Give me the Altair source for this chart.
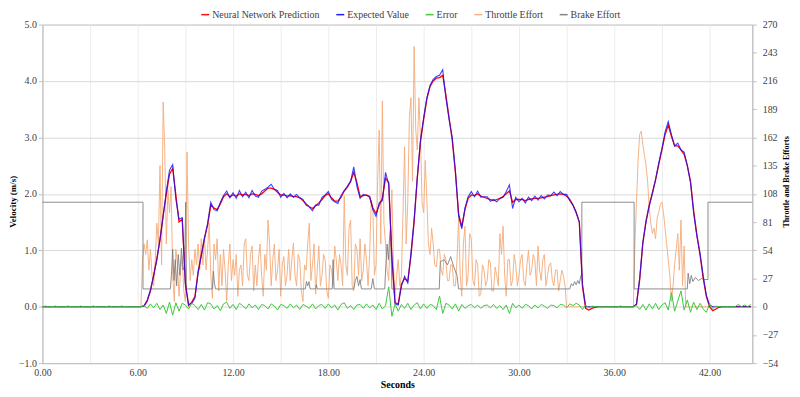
import altair as alt
import pandas as pd

# ---------------- data ----------------
time_s = [round(i * 0.2, 1) for i in range(224)]       # 0.0 .. 44.6 s, velocity grid
throttle_t = [round(i * 0.1, 1) for i in range(448)]   # 0.0 .. 44.7 s, throttle grid

expected_value = [0.0] * 30 + [
    0, 0, 0.02, 0.12, 0.3, 0.55, 0.82, 1.2, 1.6, 2.05,            # 6.0-7.8
    2.42, 2.52, 1.9, 1.55, 1.58, 0.38, 0.04, 0.06, 0.15, 0.6,     # 8.0-9.8
    0.9, 1.2, 1.48, 1.85, 1.72, 1.7, 1.85, 1.97, 2.05, 1.93,      # 10.0-11.8
    2.02, 1.92, 2.06, 1.95, 2.03, 1.93, 2.06, 1.96, 1.94, 2.05,   # 12.0-13.8
    2.08, 2.12, 2.17, 2.08, 2.06, 1.94, 2.01, 1.93, 2.0, 1.94,    # 14.0-15.8
    1.99, 1.93, 1.9, 1.8, 1.77, 1.7, 1.8, 1.8, 1.94, 1.98,        # 16.0-17.8
    2.04, 1.9, 1.86, 1.83, 1.97, 2.06, 2.14, 2.22, 2.48, 2.13,    # 18.0-19.8
    1.92, 1.99, 1.97, 1.96, 1.72, 1.6, 1.84, 1.88, 2.38, 2.17,    # 20.0-21.8
    0.9, 0.05, 0.03, 0.36, 0.54, 0.42, 0.95, 1.55, 2.3, 2.95,     # 22.0-23.8
    3.35, 3.7, 3.92, 4.03, 4.08, 4.1, 4.2, 3.7, 3.32, 3.0,        # 24.0-25.8
    2.4, 1.6, 1.38, 1.75, 1.95, 2.04, 1.95, 2.05, 1.94, 1.95,     # 26.0-27.8
    1.95, 1.87, 1.9, 1.86, 1.92, 1.94, 2.04, 2.16, 1.74, 1.94,    # 28.0-29.8
    1.86, 1.92, 1.84, 1.94, 1.88, 1.96, 1.89, 1.97, 1.91, 1.98,   # 30.0-31.8
    1.97, 2.03, 1.97, 2.04, 1.99, 1.99, 1.88, 1.8, 1.66, 1.5,     # 32.0-33.8
    0.4, 0.0, 0, 0, 0, 0, 0, 0, 0, 0,                             # 34.0-35.8
    0, 0, 0, 0, 0, 0, 0, 0.05, 0.5, 1.15,                         # 36.0-37.8
    1.5, 1.78, 2.0, 2.25, 2.55, 2.8, 3.1, 3.28, 3.05, 2.85,       # 38.0-39.8
    2.9, 2.78, 2.74, 2.5, 2.2, 1.65, 1.25, 0.95, 0.55, 0.2,       # 40.0-41.8
    0.03, 0, 0, 0, 0, 0, 0, 0, 0, 0,                              # 42.0-43.8
    0, 0, 0, 0,                                                   # 44.0-44.6
]

nn_prediction = [0.0] * 30 + [
    0, 0, 0.01, 0.1, 0.28, 0.55, 0.85, 1.18, 1.62, 2.0,
    2.35, 2.45, 1.98, 1.5, 1.55, 0.42, 0.02, 0.08, 0.18, 0.62,
    0.92, 1.22, 1.45, 1.8, 1.75, 1.72, 1.82, 1.95, 2.0, 1.95,
    1.98, 1.96, 2.0, 1.98, 1.99, 1.97, 2.0, 1.99, 1.97, 2.0,
    2.05, 2.1, 2.1, 2.08, 2.03, 1.98, 1.98, 1.96, 1.97, 1.95,
    1.95, 1.93, 1.88, 1.82, 1.77, 1.74, 1.79, 1.84, 1.9, 1.97,
    2.0, 1.93, 1.87, 1.87, 1.94, 2.05, 2.12, 2.22, 2.38, 2.2,
    1.95, 1.97, 1.98, 1.94, 1.75, 1.65, 1.8, 1.92, 2.28, 2.2,
    0.85, 0.07, 0.05, 0.4, 0.5, 0.45, 0.9, 1.5, 2.28, 2.92,
    3.32, 3.68, 3.9, 4.0, 4.05, 4.06, 4.1, 3.75, 3.35, 2.95,
    2.38, 1.65, 1.42, 1.72, 1.92, 1.98, 1.97, 2.0, 1.96, 1.94,
    1.92, 1.9, 1.88, 1.9, 1.92, 1.95, 2.0, 2.05, 1.85, 1.9,
    1.9, 1.9, 1.88, 1.9, 1.91, 1.92, 1.92, 1.93, 1.94, 1.95,
    1.97, 1.98, 1.99, 2.0, 1.99, 1.96, 1.9, 1.8, 1.68, 1.5,
    0.35, -0.03, -0.06, -0.03, -0.01, 0, 0, 0, 0, 0,
    0, 0, 0, 0, 0, 0, 0, 0.04, 0.48, 1.12,
    1.52, 1.8, 2.02, 2.25, 2.52, 2.78, 3.05, 3.22, 3.02, 2.85,
    2.85, 2.78, 2.7, 2.5, 2.22, 1.7, 1.28, 0.92, 0.5, 0.18,
    0.0, -0.07, -0.04, -0.01, 0, 0, 0, 0, 0, 0,
    0, 0, 0, 0,
]

error = [
    0, 0.01, 0, 0, 0.01, 0, 0, 0, 0.01, 0,
    0, 0, 0.01, 0, 0, 0, 0.01, 0, 0, 0,
    0, 0.01, 0, 0, 0, 0.01, 0, 0, 0, 0,
    0, 0, 0.02, -0.03, 0.05, -0.02, 0.06, -0.05, 0.03, -0.12,
    0.08, -0.15, 0.07, -0.08, 0.06, 0.03, -0.04, 0.06, 0.02, -0.05,
    0.04, -0.06, 0.07, 0.05, -0.04, 0.02, -0.07, 0.05, 0.08, -0.03,
    0.04, -0.05, 0.06, 0.02, -0.04, 0.05, -0.02, 0.03, -0.05, 0.04,
    0.02, -0.04, 0.05, 0.01, -0.06, 0.04, 0.02, -0.03, 0.05, -0.02,
    0.03, -0.05, 0.04, 0.01, -0.03, 0.05, -0.04, 0.02, 0.04, -0.03,
    0.05, -0.02, 0.03, -0.06, 0.04, 0.07, -0.03, 0.02, -0.05, 0.03,
    0.04, -0.03, 0.05, -0.02, 0.03, -0.05, 0.06, -0.04, 0.02, 0.35,
    -0.17, 0.05, -0.08, 0.04, -0.03, 0.06, -0.05, 0.03, 0.07, -0.04,
    0.05, -0.03, 0.04, 0.02, -0.05, 0.19, -0.12, 0.06, 0.03, -0.04,
    0.05, -0.08, 0.04, -0.03, 0.02, 0.04, -0.02, 0.03, -0.03, 0.02,
    0.03, -0.02, 0.04, -0.03, 0.02, -0.05, 0.03, -0.12, 0.06, -0.02,
    0.03, -0.03, 0.04, 0.02, -0.04, 0.03, -0.02, 0.04, 0.01, -0.03,
    0.03, 0.02, -0.02, 0.04, 0.03, -0.02, 0.05, 0.02, 0.06, 0.03,
    -0.05, 0.03, -0.02, 0.01, 0, 0, 0, 0, 0, 0,
    0, 0, 0.01, 0, 0, 0, 0, 0.02, -0.05, 0.04,
    -0.06, 0.05, -0.04, 0.06, -0.05, 0.03, 0.07, -0.06, 0.25, -0.08,
    0.1, 0.28, -0.06, 0.12, -0.1, 0.08, -0.05, 0.06, -0.04, -0.1,
    0.05, -0.03, 0.01, 0, 0, 0, 0, 0, 0, 0.04,
    0, 0.03, 0, 0.04,
]

throttle_effort = [0.0] * 63 + [
    45, 60, 50, 64, 35, 55, 30,                      # 6.3-6.9
    20, 45, 80, 60, 135, 40, 196, 150, 60, 112,      # 7.0-7.9
    90, 115, 30, 5, 55, 40, 10, 35, 48, 15,          # 8.0-8.9
    5, 148, 60, 25, 45, 30, 55, 40, 60, 35,          # 9.0-9.9
    65, 40, 68, 35, 55, 80, 30, 8, 60, 45,           # 10.0-10.9
    65, 15, 50, 20, 55, 35, 5, 40, 60, 25,           # 11.0-11.9
    45, 30, 50, 10, 35, 40, 20, 60, 65, 30,          # 12.0-12.9
    25, 50, 58, 15, 40, 20, 45, 60, 30, 10,          # 13.0-13.9
    50, 35, 83, 60, 20, 45, 60, 25, 35, 55,          # 14.0-14.9
    10, 40, 48, 20, 30, 55, 25, 45, 61, 30,          # 15.0-15.9
    20, 50, 45, 15, 5, 40, 35, 60, 80, 25,           # 16.0-16.9
    40, 60, 12, 35, 58, 20, 30, 50, 45, 15,          # 17.0-17.9
    8, 40, 35, 20, 58, 45, 25, 50, 40, 20,           # 18.0-18.9
    106, 40, 30, 75, 83, 20, 15, 60, 55, 30,         # 19.0-19.9
    65, 25, 35, 60, 45, 20, 50, 102, 95, 30,         # 20.0-20.9
    40, 120, 169, 60, 197, 80, 60, 35, 25, 70,       # 21.0-21.9
    112, 40, 10, 30, 45, 20, 30, 90, 153, 60,        # 22.0-22.9
    100, 180, 200, 120, 249, 170, 150, 200, 162, 100,  # 23.0-23.9
    90, 140, 103, 60, 50, 75, 60, 40, 38, 55,        # 24.0-24.9
    55, 35, 30, 50, 45, 25, 25, 40, 40, 20,          # 25.0-25.9
    20, 45, 85, 30, 10, 60, 77, 20, 30, 70,          # 26.0-26.9
    65, 25, 20, 45, 40, 10, 12, 40, 35, 20,          # 27.0-27.9
    25, 45, 42, 15, 15, 38, 30, 20, 70, 50,          # 28.0-28.9
    77, 30, 10, 45, 45, 20, 25, 50, 40, 20,          # 29.0-29.9
    30, 45, 50, 25, 20, 40, 54, 30, 35, 50,          # 30.0-30.9
    45, 20, 58, 35, 25, 45, 50, 20, 30, 40,          # 31.0-31.9
    42, 25, 20, 35, 35, 15, 25, 35, 30, 20,          # 32.0-32.9
    0,                                               # 33.0
] + [0.0] * 42 + [                                   # 33.1-37.2
    60, 100, 140, 165, 168, 155, 145,                # 37.3-37.9
    135, 120, 95, 80, 70, 75, 65, 85, 90, 98,        # 38.0-38.9
    100, 90, 75, 60, 45, 30, 5, 20, 40, 55,          # 39.0-39.9
    70, 35, 83, 20, 58, 0,                           # 40.0-40.5
] + [0.0] * 42                                       # 40.6-44.7

brake_t = [0.0, 6.33, 6.33, 8.05, 8.12, 8.2, 8.28, 8.36, 8.45, 8.55, 8.65, 8.75,
           8.85, 8.95, 9.02, 9.06, 10.7, 10.76, 10.83, 10.9, 16.55, 16.62, 16.7,
           16.78, 16.85, 17.2, 17.25, 17.3, 18.25, 18.3, 18.36, 19.6, 19.7, 19.8,
           19.9, 20.0, 20.08, 20.7, 20.8, 20.9, 21.55, 21.62, 21.7, 21.78, 21.86,
           21.92, 22.0, 24.98, 25.05, 25.3, 25.5, 25.7, 25.9, 26.1, 26.2, 33.2,
           33.3, 33.4, 33.5, 33.6, 33.7, 33.8, 33.9, 33.96, 33.96, 37.25, 37.25,
           40.6, 40.65, 40.75, 40.85, 40.95, 41.1, 41.3, 41.5, 41.7, 41.9, 41.9,
           44.69]
brake_v = [100, 100, 17, 17, 30, 55, 25, 45, 20, 50, 30, 56,
           35, 40, 100, 17, 17, 34, 22, 17, 17, 24, 20,
           24, 17, 17, 21, 17, 17, 45, 17, 17, 25, 29,
           20, 26, 17, 17, 27, 17, 17, 40, 60, 45, 67,
           77, 17, 17, 43, 45, 40, 48, 38, 30, 17, 17,
           22, 20, 24, 21, 25, 22, 30, 30, 100, 100, 17,
           17, 32, 22, 30, 24, 28, 25, 27, 26, 26, 100,
           100]

SERIES = ["Neural Network Prediction", "Expected Value", "Error",
          "Throttle Effort", "Brake Effort"]
COLORS = ["#FF0000", "#1010FF", "#3CC83C", "#F4AE7E", "#7F7F7F"]

x_ticks = [0, 3, 6, 9, 12, 15, 18, 21, 24, 27, 30, 33, 36, 39, 42]
left_ticks = [-1, 0, 1, 2, 3, 4, 5]
right_ticks = [-54, -27, 0, 27, 54, 81, 108, 135, 162, 189, 216, 243, 270]


def frame(ts, vs, name):
    return pd.DataFrame({"t": ts, "v": vs, "series": name,
                         "idx": list(range(len(ts)))})


FONT = "Liberation Serif"

color = alt.Color(
    "series:N",
    scale=alt.Scale(domain=SERIES, range=COLORS),
    legend=alt.Legend(
        title=None, orient="none", legendX=159, legendY=-15,
        direction="horizontal", symbolType="stroke", symbolSize=64,
        symbolStrokeWidth=1.5, labelFontSize=10, labelFont=FONT,
        labelColor="#404040", columnPadding=13, labelOffset=2, padding=0,
    ),
)

x_enc = alt.X(
    "t:Q",
    scale=alt.Scale(domain=[0, 44.69], nice=False, zero=False),
    axis=alt.Axis(
        values=x_ticks,
        labelExpr="datum.value % 6 == 0 ? format(datum.value, '.2f') : ''",
        title="Seconds", grid=True, gridColor="#EDEDED", ticks=False,
        labelPadding=4, labelFontSize=10, labelColor="#404040",
        labelOverlap=False, labelFlush=False, labelBound=False,
        titleFontSize=10, titleFontWeight="bold", titlePadding=3,
        domainColor="#BFBFBF",
    ),
)

y_left = alt.Y(
    "v:Q",
    scale=alt.Scale(domain=[-1, 5], nice=False, zero=False),
    axis=alt.Axis(
        orient="left", values=left_ticks, format=".1f", grid=True,
        gridColor="#D9D9D9", tickSize=4, tickColor="#BFBFBF", labelPadding=2,
        labelFontSize=10, labelColor="#404040", labelFlush=False,
        domainColor="#BFBFBF", title="Velocity (m/s)", titleFontSize=9,
        titleFontWeight="bold", titleAngle=270, titleBaseline="middle",
        titleX=-30, titleY=178,
    ),
)

y_right = alt.Y(
    "v:Q",
    scale=alt.Scale(domain=[-54, 270], nice=False, zero=False),
    axis=alt.Axis(
        orient="right", values=right_ticks, format="d", grid=False,
        tickSize=4, tickColor="#BFBFBF", labelPadding=6, labelFontSize=10,
        labelColor="#404040", labelFlush=False, domainColor="#BFBFBF",
        title="Throttle and Brake Efforts", titleFontSize=8,
        titleFontWeight="bold", titleAngle=270, titleBaseline="middle",
        titleX=34, titleY=158,
    ),
)


def line(df, y, width, opacity=1.0):
    return alt.Chart(df).mark_line(strokeWidth=width, opacity=opacity).encode(
        x=x_enc, y=y, color=color, order="idx:Q")


throttle_df = frame(throttle_t, throttle_effort, "Throttle Effort")
brake_df = frame(brake_t, brake_v, "Brake Effort")
pred_df = frame(time_s, nn_prediction, "Neural Network Prediction")
exp_df = frame(time_s, expected_value, "Expected Value")
err_df = frame(time_s, error, "Error")

right_group = alt.layer(
    line(throttle_df, y_right, 1.0, 0.95),
    line(brake_df, y_right, 1.0, 0.9),
)
left_group = alt.layer(
    line(pred_df, y_left, 1.3),
    line(exp_df, y_left, 1.1, 0.8),
    line(err_df, y_left, 1.0),
)

chart = (
    alt.layer(right_group, left_group)
    .resolve_scale(y="independent")
    .properties(
        width=715, height=341,
        padding={"left": 34.7, "top": 15.3, "right": 40, "bottom": 30},
        autosize=alt.AutoSizeParams(type="none"),
    )
    .configure(font=FONT)
    .configure_axis(labelFont=FONT, titleFont=FONT, titleColor="#000000")
    .configure_view(stroke="#BFBFBF", strokeWidth=1)
)

chart.save("out.html", embed_options={"renderer": "svg", "actions": False})
